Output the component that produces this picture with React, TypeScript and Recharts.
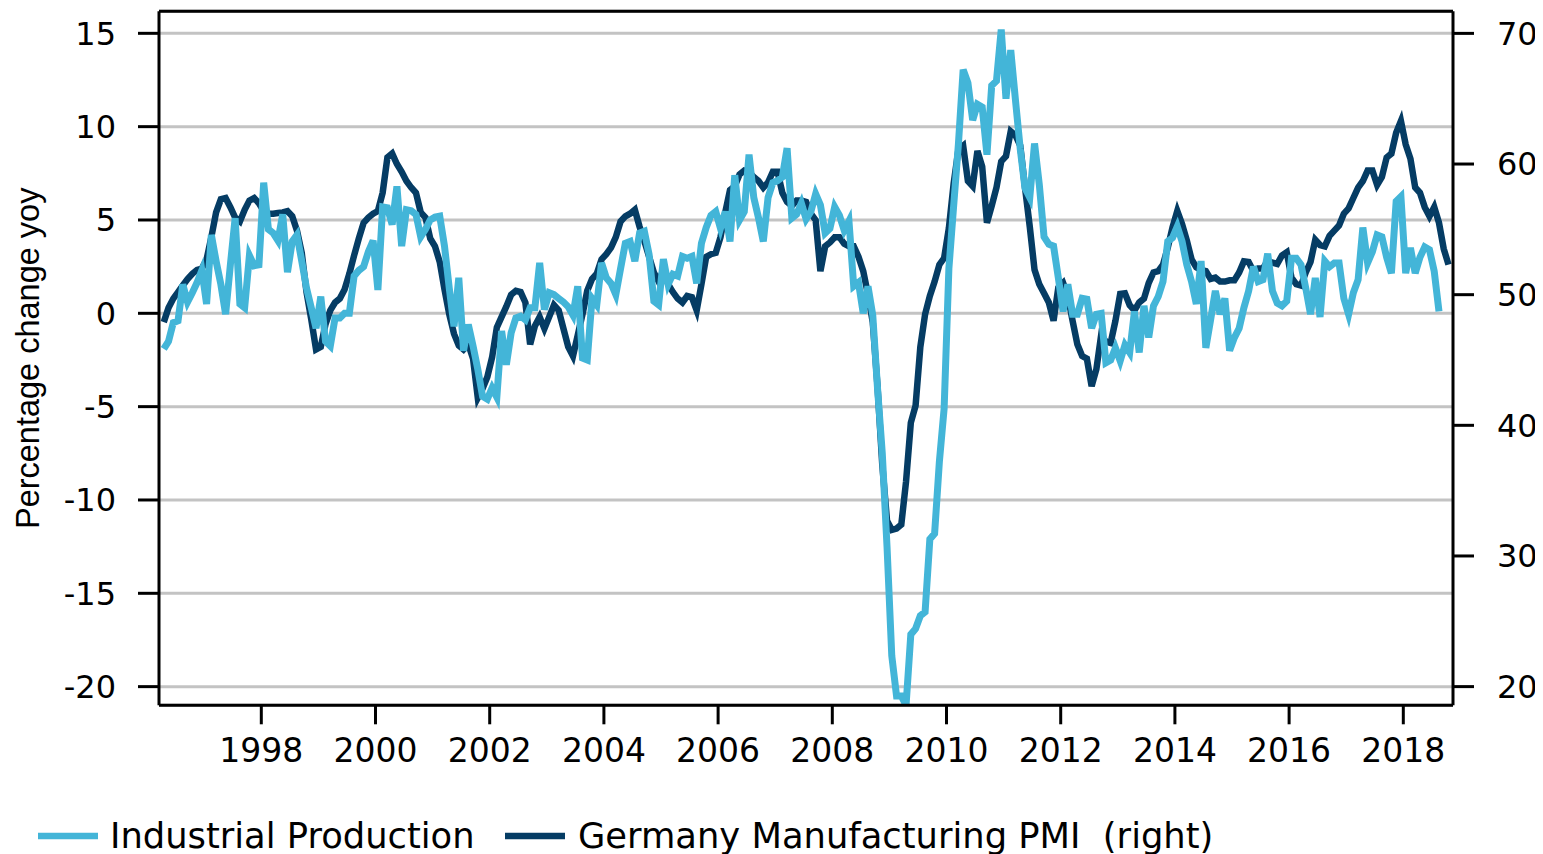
import React from 'react';
import { LineChart, Line, XAxis, YAxis, CartesianGrid, Legend, ReferenceLine } from 'recharts';

// Monthly data, first month = May 1996
const START_YEAR = 1996;
const START_MONTH = 5;

// Industrial Production, % yoy (May 1996 - Sep 2018)
const industrialProduction: number[] = [
  -1.9, -1.5, -0.5, -0.4, 1.55, 0.6, 1.1, 1.65,
  2.3, 0.5, 4.2, 2.8, 1.55, -0.05, 2.6, 5.1, 0.5, 0.3, 3.1, 2.55,
  2.6, 7.0, 4.5, 4.3, 3.9, 5.3, 2.2, 3.85, 4.2, 2.8, 1.35, 0.3,
  -0.8, 0.9, -1.5, -1.75, -0.25, -0.25, 0.0, 0.0, 2.0, 2.3, 2.5, 3.3,
  3.9, 1.25, 5.7, 5.65, 4.75, 6.8, 3.6, 5.55, 5.5, 5.3, 4.1, 4.5,
  5.0, 5.15, 5.2, 3.6, 1.35, -0.7, 1.9, -2.0, -0.6, -1.75, -3.0, -4.45,
  -4.6, -4.0, -4.5, -0.95, -2.75, -1.05, -0.25, -0.15, -0.35, 0.3, 0.3, 2.7,
  0.2, 1.1, 1.0, 0.8, 0.6, 0.35, -0.1, 1.45, -2.4, -2.5, 0.8, 0.45,
  2.7, 1.9, 1.6, 1.0, 2.4, 3.75, 3.85, 2.8, 4.3, 4.4, 3.15, 0.65,
  0.45, 2.9, 1.55, 2.1, 2.0, 3.05, 2.95, 3.05, 1.6, 3.75, 4.6, 5.25,
  5.45, 4.55, 5.45, 3.85, 7.4, 5.0, 5.45, 8.5, 6.2, 5.1, 3.85, 6.2,
  7.0, 7.1, 7.3, 8.85, 5.1, 5.3, 5.9, 5.05, 5.45, 6.4, 5.8, 4.3,
  4.55, 5.7, 5.25, 4.45, 4.95, 1.45, 1.65, 0.0, 1.45, -0.1, -4.0, -7.5,
  -12.5, -18.35, -20.5, -20.5, -21.0, -17.2, -16.9, -16.2, -16.0, -12.1, -11.8, -7.95,
  -5.1, 2.4, 5.75, 9.05, 13.05, 12.35, 10.35, 11.2, 11.05, 8.5, 12.2, 12.45,
  15.2, 11.5, 14.1, 11.4, 8.8, 6.7, 6.2, 9.1, 6.9, 4.1, 3.7, 3.6,
  1.9, 0.1, 1.55, -0.05, -0.05, 0.8, 0.75, -0.8, -0.05, 0.0, -2.65, -2.5,
  -1.85, -2.55, -1.7, -2.1, 0.1, -2.1, 0.4, -1.3, 0.4, 0.9, 1.7, 3.85,
  4.05, 4.65, 3.85, 2.6, 1.7, 0.5, 2.8, -1.85, -0.35, 1.2, -0.05, 0.8,
  -2.0, -1.3, -0.8, 0.3, 1.2, 2.5, 1.7, 1.8, 3.2, 1.2, 0.55, 0.4,
  0.65, 2.95, 2.95, 2.6, 1.35, -0.05, 1.9, -0.2, 2.8, 2.5, 2.7, 2.7,
  0.8, -0.05, 1.1, 1.8, 4.6, 2.7, 3.3, 4.2, 4.1, 3.0, 2.15, 6.0,
  6.25, 2.15, 3.5, 2.15, 3.0, 3.55, 3.4, 2.25, 0.1,
];

// Germany Manufacturing PMI (May 1996 - Nov 2018), right axis
const germanyPMI: number[] = [
  47.9, 49.0, 49.7, 50.2, 50.7, 51.2, 51.6, 51.9,
  52.0, 52.7, 54.4, 56.3, 57.3, 57.4, 56.7, 55.9, 55.6, 56.5, 57.2, 57.4,
  57.0, 56.4, 56.2, 56.2, 56.25, 56.3, 56.4, 56.0, 54.9, 53.2, 50.2, 48.1,
  45.8, 46.0, 47.75, 48.8, 49.4, 49.7, 50.4, 51.6, 53.0, 54.3, 55.5, 55.9,
  56.2, 56.4, 57.8, 60.5, 60.8, 60.0, 59.4, 58.7, 58.2, 57.8, 56.3, 55.9,
  54.3, 53.7, 52.5, 50.4, 48.5, 47.0, 46.1, 45.8, 46.2, 45.1, 42.1, 42.8,
  43.7, 45.2, 47.5, 48.3, 49.1, 50.0, 50.3, 50.2, 49.4, 46.2, 47.6, 48.3,
  47.4, 48.3, 49.2, 48.8, 47.4, 46.0, 45.3, 46.9, 48.5, 50.3, 51.2, 51.6,
  52.7, 53.1, 53.6, 54.4, 55.6, 56.0, 56.2, 56.5, 55.2, 54.1, 52.9, 51.7,
  51.0, 51.9, 50.8, 50.2, 49.7, 49.4, 49.9, 49.8, 48.8, 50.8, 52.9, 53.1,
  53.2, 54.4, 56.3, 58.0, 58.3, 59.2, 59.5, 59.4, 59.0, 58.7, 58.2, 58.6,
  59.4, 59.4, 57.8, 57.1, 56.8, 57.2, 57.2, 57.1, 56.2, 55.7, 51.8, 53.7,
  54.0, 54.4, 54.4, 53.9, 53.7, 53.7, 52.9, 51.8, 50.0, 47.9, 43.0, 37.0,
  32.7, 32.0, 32.1, 32.4, 35.7, 40.2, 41.5, 46.0, 48.5, 49.9, 51.0, 52.3,
  52.8, 55.1, 58.5, 61.1, 61.4, 58.7, 58.3, 61.0, 59.8, 55.5, 56.8, 58.2,
  60.2, 60.6, 62.5, 62.2, 61.4, 58.2, 55.2, 51.9, 50.8, 50.1, 49.4, 48.0,
  50.55, 50.9, 49.9, 48.0, 46.2, 45.3, 45.1, 43.0, 44.3, 46.9, 46.4, 46.3,
  48.0, 50.05, 50.1, 49.2, 48.8, 49.4, 49.7, 50.9, 51.7, 51.8, 52.3, 53.6,
  55.15, 56.4, 55.4, 54.15, 52.7, 52.1, 51.9, 51.8, 51.2, 51.3, 51.0, 51.0,
  51.1, 51.1, 51.7, 52.55, 52.5, 51.8, 52.0, 52.0, 52.6, 52.45, 52.35, 53.0,
  53.25, 51.3, 50.8, 50.7, 51.7, 52.5, 54.2, 53.8, 53.7, 54.5, 54.9, 55.3,
  56.2, 56.6, 57.4, 58.2, 58.7, 59.5, 59.5, 58.4, 59.0, 60.5, 60.8, 62.4,
  63.3, 61.5, 60.4, 58.2, 57.8, 56.7, 56.0, 56.7, 55.5, 53.5, 52.3,
];

const xTickYears = [1998, 2000, 2002, 2004, 2006, 2008, 2010, 2012, 2014, 2016, 2018];
const leftTicks = [-20, -15, -10, -5, 0, 5, 10, 15];
const rightTicks = [20, 30, 40, 50, 60, 70];
const seriesNames = ['Industrial Production', 'Germany Manufacturing PMI  (right)'];
const seriesColors = ['#43b5d8', '#053c64'];
const yAxisTitle = 'Percentage change yoy';

const rows = germanyPMI.map((p, i) => {
  const monthIndex = START_MONTH - 1 + i;
  return {
    t: START_YEAR + monthIndex / 12,
    ip: i < industrialProduction.length ? industrialProduction[i] : null,
    pmi: p,
  };
});

// ticks sit mid-January
const xTicks = xTickYears.map((y) => y + 0.5 / 12);
const xDomain: [number, number] = [1996.25, 2018.912];
const leftDomain: [number, number] = [-21.0, 16.18];
const rightDomain: [number, number] = [18.57, 71.69];

const FONT = 'DejaVu Sans';

const YTitle = (props: any) => {
  const vb = props.viewBox || { x: 31, y: 3, width: 120, height: 694 };
  const cx = vb.x - 11;
  const cy = vb.y + vb.height / 2;
  return (
    <text
      x={cx}
      y={cy}
      transform={`rotate(-90, ${cx}, ${cy})`}
      textAnchor="middle"
      dominantBaseline="central"
      fontFamily="Liberation Sans"
      fontSize={32.5}
      fill="#000"
    >
      {yAxisTitle}
    </text>
  );
};

const renderLegend = () => (
  <svg width={1535} height={44} style={{ display: 'block' }}>
    <line x1={30} x2={90} y1={20} y2={20} stroke={seriesColors[0]} strokeWidth={6.5} />
    <text x={102} y={32} fontFamily={FONT} fontSize={35.3} fill="#000" style={{ whiteSpace: 'pre' }}>
      {seriesNames[0]}
    </text>
    <line x1={497} x2={557} y1={20} y2={20} stroke={seriesColors[1]} strokeWidth={6.5} />
    <text x={570} y={32} fontFamily={FONT} fontSize={35.3} fill="#000" style={{ whiteSpace: 'pre' }}>
      {seriesNames[1]}
    </text>
  </svg>
);

export default function App() {
  return (
    <div style={{ width: 1535, height: 846, background: '#fff' }}>
      <LineChart
        width={1535}
        height={846}
        data={rows}
        margin={{ top: 3.3, right: 20, bottom: 88.7, left: 31 }}
      >
        <CartesianGrid
          xAxisId="b"
          yAxisId="left"
          vertical={false}
          stroke="#c3c3c3"
          strokeWidth={3}
        />
        <XAxis
          xAxisId="b"
          type="number"
          dataKey="t"
          domain={xDomain}
          ticks={xTicks}
          allowDataOverflow
          interval={0}
          height={60}
          tickFormatter={(v: number) => String(Math.round(v))}
          tick={{ fontSize: 33, fontFamily: FONT, fill: '#000' }}
          tickSize={19}
          tickMargin={14}
          axisLine={{ stroke: '#000', strokeWidth: 3 }}
          tickLine={{ stroke: '#000', strokeWidth: 3 }}
        />
        <YAxis
          yAxisId="left"
          orientation="left"
          width={120}
          domain={leftDomain}
          ticks={leftTicks}
          allowDataOverflow
          interval={0}
          tick={{ fontSize: 32, fontFamily: FONT, fill: '#000' }}
          tickSize={21}
          tickMargin={22}
          axisLine={{ stroke: '#000', strokeWidth: 3 }}
          tickLine={{ stroke: '#000', strokeWidth: 3 }}
          label={<YTitle />}
        />
        <YAxis
          yAxisId="right"
          orientation="right"
          width={70}
          domain={rightDomain}
          ticks={rightTicks}
          allowDataOverflow
          interval={0}
          tick={{ fontSize: 32, fontFamily: FONT, fill: '#000', textAnchor: 'start' }}
          tickSize={21}
          tickMargin={23}
          axisLine={{ stroke: '#000', strokeWidth: 3 }}
          tickLine={{ stroke: '#000', strokeWidth: 3 }}
        />
        <Line
          xAxisId="b"
          yAxisId="right"
          type="linear"
          dataKey="pmi"
          name={seriesNames[1]}
          stroke={seriesColors[1]}
          strokeWidth={6.5}
          dot={false}
          activeDot={false}
          isAnimationActive={false}
        />
        <Line
          xAxisId="b"
          yAxisId="left"
          type="linear"
          dataKey="ip"
          name={seriesNames[0]}
          stroke={seriesColors[0]}
          strokeWidth={7}
          dot={false}
          activeDot={false}
          isAnimationActive={false}
        />
        <ReferenceLine
          xAxisId="b"
          yAxisId="left"
          y={leftDomain[1]}
          stroke="#000"
          strokeWidth={3}
          ifOverflow="visible"
        />
        <Legend
          verticalAlign="middle"
          align="center"
          layout="horizontal"
          content={renderLegend}
          wrapperStyle={{ top: 808, left: 0, width: 1535, height: 44 }}
        />
      </LineChart>
    </div>
  );
}
